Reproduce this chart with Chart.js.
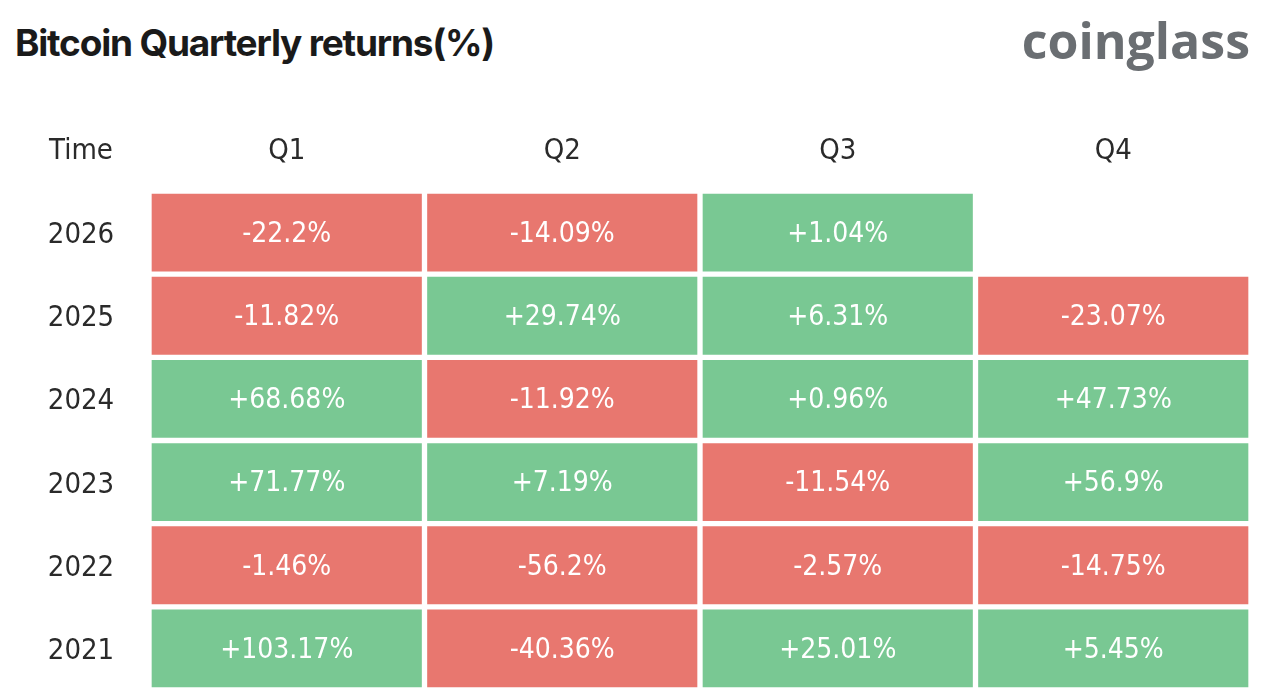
<!DOCTYPE html>
<html lang="en">
<head>
<meta charset="UTF-8">
<title>Bitcoin Quarterly returns</title>
<style>
	body { margin: 0; background: #fff; width: 1280px; height: 690px; overflow: hidden; position: relative; }
	.title { position: absolute; left: 15px; top: 20px; font-family: Inter, sans-serif; font-weight: 700; font-size: 37px; color: #1a1a1a; letter-spacing: -1.2px; }
	.logo { position: absolute; right: 30px; top: 6px; font-family: "Open Sans", sans-serif; font-weight: 700; font-size: 50px; color: #6a6e72; }
	#chart { position: absolute; left: 0; top: 0; }
</style>
</head>
<body>
<div class="title">Bitcoin Quarterly returns(%)</div>
<div class="logo">coinglass</div>
<canvas id="chart" width="1280" height="690"></canvas>
<script src="https://cdn.jsdelivr.net/npm/chart.js"></script>
<script>
	const years = ['2026', '2025', '2024', '2023', '2022', '2021'];
	const quarters = ['Q1', 'Q2', 'Q3', 'Q4'];
	const q1 = [-22.2, -11.82, 68.68, 71.77, -1.46, 103.17];
	const q2 = [-14.09, 29.74, -11.92, 7.19, -56.2, -40.36];
	const q3 = [1.04, 6.31, 0.96, -11.54, -2.57, 25.01];
	const q4 = [null, -23.07, 47.73, 56.9, -14.75, 5.45];
	const values = [q1, q2, q3, q4];

	const RED = '#e8776f', GREEN = '#79c893';
	const FONT = '"DejaVu Sans Condensed", "DejaVu Sans", sans-serif';

	function fmt(v) {
		return (v > 0 ? '+' : '') + v + '%';
	}

	const datasets = values.map((vals, q) => ({
		label: quarters[q],
		data: vals.map(v => v === null ? null : [q, q + 1]),
		backgroundColor: vals.map(v => v === null ? 'transparent' : (v >= 0 ? GREEN : RED)),
		borderColor: '#ffffff',
		borderWidth: 3,
		borderSkipped: false,
		grouped: false,
		barPercentage: 1,
		categoryPercentage: 1
	}));

	const labelsPlugin = {
		id: 'tableLabels',
		afterDatasetsDraw(chart) {
			const ctx = chart.ctx;
			const xs = chart.scales.x, ys = chart.scales.y;
			ctx.save();
			ctx.textAlign = 'center';
			ctx.textBaseline = 'middle';
			// cell values
			ctx.font = '28px ' + FONT;
			ctx.fillStyle = '#ffffff';
			values.forEach((vals, q) => {
				vals.forEach((v, i) => {
					if (v === null) return;
					ctx.fillText(fmt(v), xs.getPixelForValue(q + 0.5), ys.getPixelForValue(i) + 2);
				});
			});
			// header
			ctx.fillStyle = '#2a2a2a';
			ctx.font = '29px ' + FONT;
			const headY = ys.getPixelForValue(0) - 81;
			quarters.forEach((q, i) => ctx.fillText(q, xs.getPixelForValue(i + 0.5), headY));
			ctx.fillText('Time', 81, headY);
			// years
			ctx.font = '29px ' + FONT;
			years.forEach((y, i) => ctx.fillText(y, 81, ys.getPixelForValue(i) + 3));
			ctx.restore();
		}
	};

	new Chart(document.getElementById('chart').getContext('2d'), {
		type: 'bar',
		data: { labels: years, datasets: datasets },
		options: {
			indexAxis: 'y',
			responsive: false,
			animation: false,
			layout: { padding: { left: 149, top: 191, right: 29, bottom: 0 } },
			plugins: { legend: { display: false }, tooltip: { enabled: false } },
			scales: {
				x: { type: 'linear', min: 0, max: 4, display: false },
				y: { display: false }
			}
		},
		plugins: [labelsPlugin]
	});
</script>
</body>
</html>
